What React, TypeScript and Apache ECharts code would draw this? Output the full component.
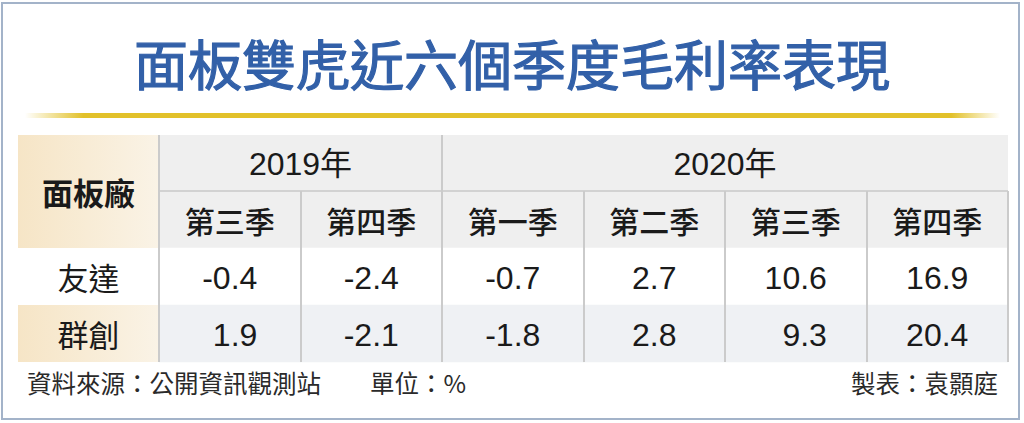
import React, { useEffect, useRef } from "react";
import * as echarts from "echarts";

const title = "面板雙虎近六個季度毛利率表現";
const cornerLabel = "面板廠";
const years = ["2019年", "2020年"];
const yearSpans = [2, 4];
const quarters = ["第三季", "第四季", "第一季", "第二季", "第三季", "第四季"];
const companies = ["友達", "群創"];
const auoValues = [-0.4, -2.4, -0.7, 2.7, 10.6, 16.9];
const innoluxValues = [1.9, -2.1, -1.8, 2.8, 9.3, 20.4];
const sourceNote = "資料來源：公開資訊觀測站";
const unitNote = "單位：%";
const authorNote = "製表：袁顥庭";

const CJK = "'Noto Sans CJK TC', 'Noto Sans CJK SC', sans-serif";
const NUM = "'Liberation Sans', Arial, 'Noto Sans CJK TC', sans-serif";

export default function App() {
  const ref = useRef<HTMLDivElement>(null);

  useEffect(() => {
    if (!ref.current) return;
    const chart = echarts.init(ref.current, undefined, { renderer: "svg" });

    const W = 1024;
    const tableLeft = 18;
    const colLeft = 159;
    const tableRight = 1008;
    const headTop = 135;
    const rowH = 57;
    const gridTop = headTop + 56; // 191
    const headBottom = gridTop + rowH; // 248
    const tableBottom = headBottom + rowH * companies.length; // 362
    const colW = (tableRight - colLeft) / quarters.length;

    const fs = 32;
    const charW = (s: string) =>
      s.split("").reduce((a, c) => a + (c === "-" ? 0.333 : c === "." ? 0.278 : 0.556) * fs, 0);
    const series = [auoValues, innoluxValues];
    const fmt = (v: number) => v.toFixed(1);
    const colMaxW = quarters.map((_, i) => Math.max(...series.map((s) => charW(fmt(s[i])))));

    const yCats = ["", ...companies];
    const rowColors = ["#ffffff", "#eff1f4"];
    const data: any[] = [];
    series.forEach((vals, r) => {
      vals.forEach((v, c) => {
        const w = charW(fmt(v));
        data.push({
          value: [c, r + 1, v],
          label: { offset: [(colMaxW[c] - w) / 2, 1] },
        });
      });
    });

    const beige = () => ({
      type: "linear",
      x: 0,
      y: 0,
      x2: 1,
      y2: 0,
      colorStops: [
        { offset: 0, color: "#f6e5c6" },
        { offset: 1, color: "#faf3e6" },
      ],
    });

    const graphics: any[] = [];
    graphics.push({
      type: "rect",
      z: -10,
      shape: { x: colLeft, y: headTop, width: tableRight - colLeft, height: headBottom - headTop },
      style: { fill: "#efefef" },
    });
    graphics.push({
      type: "rect",
      z: -10,
      shape: { x: tableLeft, y: headTop, width: colLeft - tableLeft, height: headBottom - headTop },
      style: { fill: beige() },
    });
    companies.forEach((_, i) => {
      graphics.push({
        type: "rect",
        z: -10,
        shape: { x: tableLeft, y: headBottom + i * rowH, width: colLeft - tableLeft, height: rowH },
        style: { fill: i % 2 === 1 ? beige() : "#ffffff" },
      });
    });
    graphics.push({
      type: "line",
      z: 5,
      shape: { x1: colLeft, y1: gridTop, x2: tableRight, y2: gridTop },
      style: { stroke: "#d2d2d2", lineWidth: 2 },
    });
    let acc = 0;
    const yearBounds = [0];
    yearSpans.forEach((s) => {
      acc += s;
      yearBounds.push(acc);
    });
    yearBounds.slice(0, -1).forEach((b) => {
      graphics.push({
        type: "line",
        z: 5,
        shape: { x1: colLeft + b * colW, y1: headTop, x2: colLeft + b * colW, y2: gridTop },
        style: { stroke: "#cbcbcb", lineWidth: 2 },
      });
    });
    years.forEach((y, i) => {
      const cx = colLeft + ((yearBounds[i] + yearBounds[i + 1]) / 2) * colW;
      graphics.push({
        type: "text",
        z: 10,
        x: cx,
        y: (headTop + gridTop) / 2 + 1,
        style: {
          text: y,
          fill: "#1a1a1a",
          font: `32px ${NUM}`,
          align: "center",
          verticalAlign: "middle",
        },
      });
    });
    graphics.push({
      type: "text",
      z: 10,
      x: (tableLeft + colLeft) / 2,
      y: (headTop + headBottom) / 2,
      style: {
        text: cornerLabel,
        fill: "#1a1a1a",
        font: `bold 31px ${CJK}`,
        align: "center",
        verticalAlign: "middle",
      },
    });
    graphics.push({
      type: "text",
      z: 10,
      x: W / 2,
      y: 62,
      style: {
        text: title,
        fill: "#3260a8",
        font: `normal 54px ${CJK}`,
        stroke: "#3260a8",
        lineWidth: 1.2,
        align: "center",
        verticalAlign: "middle",
      },
    });
    graphics.push({
      type: "rect",
      z: 1,
      shape: { x: 25, y: 113, width: 975, height: 5 },
      style: {
        fill: {
          type: "linear",
          x: 0,
          y: 0,
          x2: 1,
          y2: 0,
          colorStops: [
            { offset: 0, color: "rgba(226,193,40,0)" },
            { offset: 0.06, color: "#e2c12a" },
            { offset: 0.95, color: "#e2c12a" },
            { offset: 1, color: "rgba(226,193,40,0)" },
          ],
        },
      },
    });
    const footY = 382;
    const footFont = `24.5px ${CJK}`;
    graphics.push({
      type: "text",
      z: 10,
      x: 27,
      y: footY,
      style: { text: sourceNote, fill: "#2a2a2a", font: footFont, align: "left", verticalAlign: "middle" },
    });
    graphics.push({
      type: "text",
      z: 10,
      x: 370,
      y: footY,
      style: { text: unitNote, fill: "#2a2a2a", font: footFont, align: "left", verticalAlign: "middle" },
    });
    graphics.push({
      type: "text",
      z: 10,
      x: 998,
      y: footY,
      style: { text: authorNote, fill: "#2a2a2a", font: footFont, align: "right", verticalAlign: "middle" },
    });
    graphics.push({
      type: "rect",
      z: 20,
      shape: { x: 2, y: 3, width: 1017, height: 416 },
      style: { fill: "none", stroke: "#a3b3c9", lineWidth: 2 },
    });

    chart.setOption({
      animation: false,
      backgroundColor: "#ffffff",
      grid: {
        left: colLeft,
        right: W - tableRight,
        top: gridTop,
        height: tableBottom - gridTop,
        containLabel: false,
      },
      xAxis: {
        type: "category",
        data: quarters,
        position: "top",
        axisLine: { show: false },
        axisTick: { show: false },
        axisLabel: {
          margin: -(rowH / 2),
          verticalAlign: "middle",
          color: "#1a1a1a",
          fontSize: 30,
          fontFamily: CJK,
          fontWeight: 500,
        },
        splitLine: { show: true, lineStyle: { color: "#cbcbcb", width: 2 } },
        z: 5,
      },
      yAxis: {
        type: "category",
        data: yCats,
        inverse: true,
        axisLine: { show: false },
        axisTick: { show: false },
        splitLine: { show: false },
        axisLabel: {
          margin: (colLeft - tableLeft) / 2,
          align: "center",
          color: "#1a1a1a",
          fontSize: 31,
          fontFamily: CJK,
        },
      },
      visualMap: {
        type: "piecewise",
        show: false,
        dimension: 1,
        pieces: [
          { value: 1, color: rowColors[0] },
          { value: 2, color: rowColors[1] },
        ],
      },
      graphic: { elements: graphics },
      series: [
        {
          type: "heatmap",
          data,
          z: 2,
          label: {
            show: true,
            color: "#1a1a1a",
            fontSize: fs,
            fontFamily: NUM,
            formatter: (p: any) => fmt(p.value[2]),
          },
          emphasis: { disabled: true },
        },
      ],
    });

    return () => chart.dispose();
  }, []);

  return (
    <div
      ref={ref}
      style={{ position: "fixed", left: 0, top: 0, width: 1024, height: 423 }}
    />
  );
}
